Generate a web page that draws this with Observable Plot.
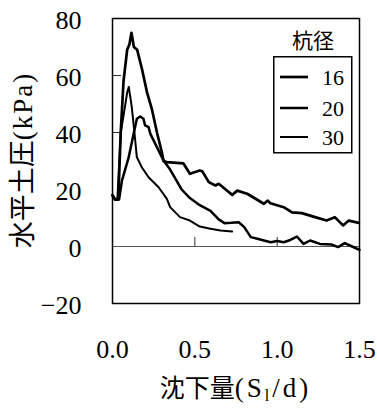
<!DOCTYPE html>
<html><head><meta charset="utf-8">
<script src="https://cdn.jsdelivr.net/npm/d3@7"></script>
<script src="https://cdn.jsdelivr.net/npm/@observablehq/plot@0.6"></script>
<style>
body{margin:0;background:#fff;}
#wrap{position:relative;width:377px;height:408px;overflow:hidden;font-family:"Times New Roman","Liberation Serif","DejaVu Serif",serif;color:#000;}
#chart{position:absolute;left:0;top:0;}
#chart svg text, #legbox text{font-family:"Times New Roman","Liberation Serif","DejaVu Serif",serif !important;}
.cjk{font-family:"Noto Sans CJK JP",sans-serif;}
#ytitle{position:absolute;left:22px;top:160px;transform:translate(-50%,-50%) rotate(-90deg);white-space:nowrap;font-size:27px;line-height:1;}
#xtitle{position:absolute;left:112px;width:247px;top:374px;text-align:center;white-space:nowrap;font-size:25px;line-height:1;}
.lat{font-family:"Times New Roman","Liberation Serif","DejaVu Serif",serif;font-size:27px;}
#legtitle{position:absolute;left:273px;width:80px;top:29px;text-align:center;font-size:21px;line-height:1;}
#legbox{position:absolute;left:273px;top:56px;}
</style>
</head><body>
<div id="wrap">
<div id="chart"></div>
<div id="ytitle"><span class="cjk">水平土圧</span><span class="lat" style="letter-spacing:2px">(kPa)</span></div>
<div id="xtitle"><span class="cjk">沈下量</span><span class="lat" style="letter-spacing:3px">(S<sub style="font-size:16px;vertical-align:-4px;">l</sub>/d)</span></div>
<div id="legtitle" class="cjk">杭径</div>
<svg id="legbox" width="80" height="98"></svg>
</div>
<script>
// Data
const diameters = ["16", "20", "30"];
const s16 = [0,0.015,0.035,0.05,0.067,0.089,0.103,0.115,0.13,0.15,0.18,0.21,0.24,0.27,0.30,0.31,0.33,0.43,0.47,0.53,0.545,0.585,0.625,0.645,0.727,0.757,0.818,0.919,0.943,0.959,1.04,1.09,1.15,1.23,1.30,1.35,1.40,1.435,1.496];
const p16 = [18,16.5,16.5,40,58,69,71,75,70,69,62,54,48,40,33,30,29.6,29.2,25.5,26.7,26.4,22.6,21.4,22,18.1,19.6,18.5,15,16.1,15.2,13.8,12,11.7,10.3,9.1,10.3,7.4,9.1,8.3];
const s20 = [0,0.015,0.04,0.057,0.097,0.128,0.148,0.168,0.188,0.198,0.219,0.23,0.26,0.29,0.31,0.35,0.38,0.42,0.47,0.53,0.595,0.645,0.68,0.72,0.767,0.80,0.84,0.88,0.96,1.0,1.04,1.08,1.12,1.16,1.20,1.26,1.33,1.37,1.41,1.455,1.50];
const p20 = [18,16.5,16.5,23,31,39.5,44.8,45.6,44.8,42.5,41.9,39.5,36,32.5,30.2,27,24,20,17,14.5,12.5,9.5,8.2,8.3,8.5,6.8,3.3,2.7,1.5,1.9,1.5,2.3,3.5,0.9,2.1,0.9,0.7,-0.2,1.2,0,-1.2];
const s30 = [0,0.015,0.03,0.05,0.07,0.089,0.099,0.117,0.134,0.148,0.178,0.219,0.28,0.33,0.35,0.41,0.47,0.53,0.595,0.656,0.727];
const p30 = [18,16.5,17,40,47,54,56,49,39.5,31.3,27.8,24.3,20.8,16.7,13.8,10.3,9.1,7,6.2,5.6,5.3];
const xTicks = [0, 0.5, 1.0, 1.5];
const yTicks = [-20, 0, 20, 40, 60, 80];

const rows = [];
[[diameters[0], s16, p16], [diameters[1], s20, p20], [diameters[2], s30, p30]].forEach(([d, s, p]) => {
  s.forEach((v, i) => rows.push({d, s: v, p: p[i]}));
});
const widths = {"16": 2.7, "20": 2.5, "30": 2.0};

const lineFor = d => Plot.line(rows.filter(r => r.d === d), {
  x: "s", y: "p", stroke: "black", strokeWidth: widths[d], strokeLinejoin: "round", strokeLinecap: "round"
});

const serifStack = "'Times New Roman', 'Liberation Serif', 'DejaVu Serif', serif";
const chart = Plot.plot({
  width: 377, height: 408,
  marginLeft: 112, marginRight: 18, marginTop: 18, marginBottom: 105,
  style: {fontFamily: serifStack, fontSize: "26px", color: "black", background: "white"},
  x: {domain: [0, 1.5]},
  y: {domain: [-20, 80]},
  marks: [
    Plot.ruleY([0], {stroke: "#555", strokeWidth: 1}),
    Plot.ruleY([40, 60], {x1: 0, x2: 0, insetRight: -9, stroke: "#333", strokeWidth: 1}),
    Plot.ruleX([0.5, 1.0], {y1: 0, y2: 0, insetTop: -9, stroke: "#333", strokeWidth: 1}),
    lineFor("30"), lineFor("20"), lineFor("16"),
    Plot.frame({stroke: "black", strokeWidth: 1.5}),
    Plot.axisY({ticks: yTicks, tickSize: 0, tickPadding: 31, fontSize: 26, fontFamily: serifStack, label: null, dy: 2}),
    Plot.axisX({ticks: xTicks, tickFormat: d3.format(".1f"), tickSize: 0, tickPadding: 36, fontSize: 26, fontFamily: serifStack, label: null})
  ]
});
document.getElementById("chart").appendChild(chart);

// Legend
const leg = d3.select("#legbox");
leg.append("rect").attr("x", 0.75).attr("y", 0.75).attr("width", 78).attr("height", 96)
  .attr("fill", "white").attr("stroke", "black").attr("stroke-width", 1.5);
const ly = [21, 52, 81];
diameters.forEach((d, i) => {
  leg.append("line").attr("x1", 7).attr("x2", 35).attr("y1", ly[i]).attr("y2", ly[i])
    .attr("stroke", "black").attr("stroke-width", widths[d]);
  leg.append("text").attr("x", 49).attr("y", ly[i]).attr("dy", "0.35em")
    .attr("font-size", 22).text(d);
});
</script>
</body></html>
